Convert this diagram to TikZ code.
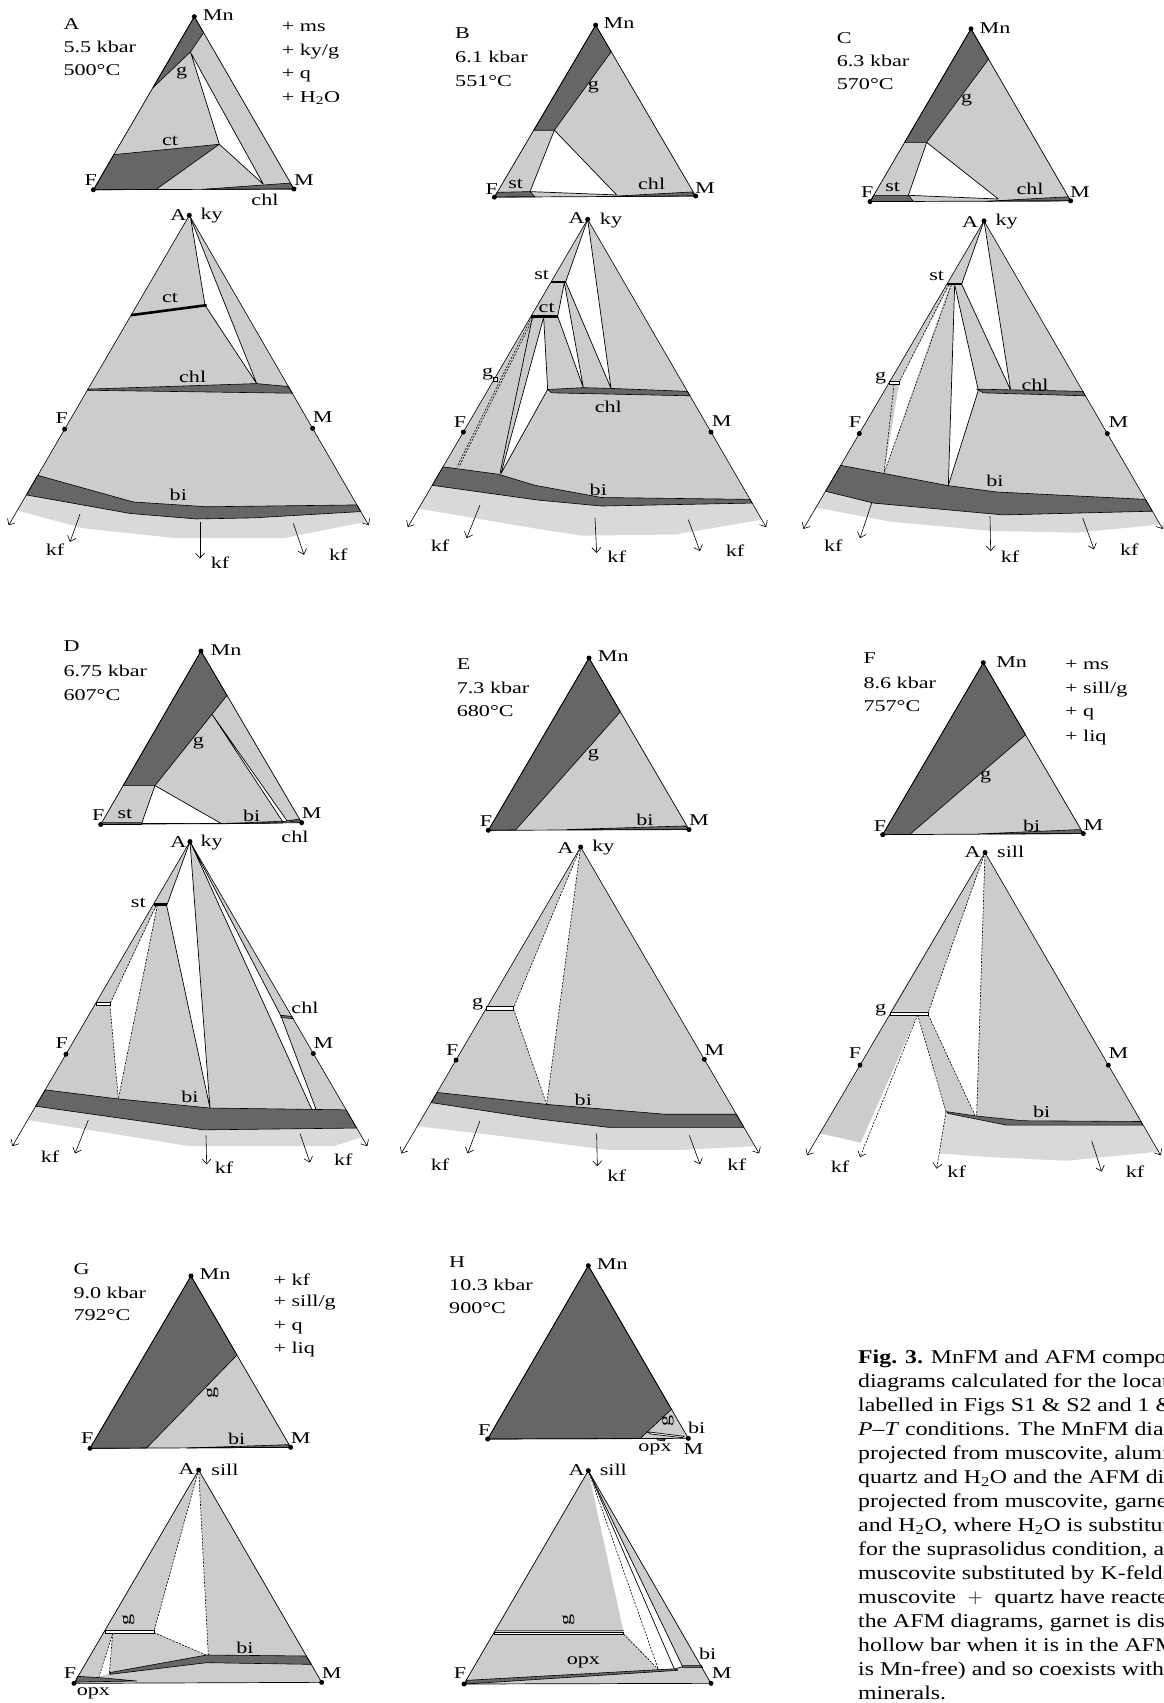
\documentclass[tikz,border=0pt]{standalone}
\usepackage{fontspec}
\setmainfont{Liberation Serif}
\newfontfamily\lsf{Liberation Serif}[FakeStretch=1.34,Ligatures=TeX]
\newfontfamily\csf{Liberation Serif}[FakeStretch=1.22,Ligatures=TeX]
\newcommand\labf{\lsf\fontsize{16.5}{19}\selectfont}
\newcommand\capf{\csf\fontsize{19.5}{24}\selectfont}
\usetikzlibrary{arrows.meta}
\definecolor{lg}{gray}{0.80}
\definecolor{dg}{gray}{0.40}
\definecolor{kg}{gray}{0.85}
\tikzset{
 dgf/.style={fill=dg, draw=black, line width=0.6pt, line join=round},
 ln/.style={draw=black, line width=0.7pt, line join=round},
 wfl/.style={fill=white, draw=black, line width=0.7pt, line join=round},
 dl/.style={draw=black, line width=0.6pt, dash pattern=on 2pt off 1.4pt},
 vdot/.style={circle, fill=black, inner sep=0pt, minimum size=5pt},
 lbl/.style={inner sep=0pt, font=\labf},
 blk/.style={inner sep=0pt, font=\labf, anchor=west},
 arr/.style={draw=black, line width=0.6pt, -{Straight Barb[length=5pt,width=9pt]}},
 tbar/.style={draw=black, line width=2.6pt},
 hb/.style={draw=black, fill=white, line width=0.5pt},
 rowa/.style={xscale=1/3, yscale=0.36991},
 rowb/.style={xscale=1/3, yscale=0.36352},
 rowc/.style={scale=1/3},
}
\begin{document}
\begin{tikzpicture}[x=1pt,y=-1pt]
\path[use as bounding box, fill=white] (0,0) rectangle (1163,1703);
\clip (0,0) rectangle (1163,1703);

%================ PANEL A =================
\begin{scope}[shift={(0,0)}, rowa]
\fill[lg] (583,45)--(280,513)--(882,511)--cycle;
\filldraw[dgf] (583,45)--(610.6,88)--(572,140)--(458.7,237)--cycle;
\filldraw[wfl] (572,142)--(658,390)--(790,498)--cycle;
\filldraw[dgf] (341.5,418)--(658,390)--(468,512.4)--(281,513)--cycle;
\filldraw[dgf] (605,512)--(870,495)--(882,511)--cycle;
\draw[ln] (583,45)--(280,513)--(882,511)--cycle;
\node[vdot] (aMnd) at (583,45) {};
\node[vdot] (aFd) at (280,513) {};
\node[vdot] (aMd) at (882,511) {};
\node[lbl] (aMn) at (655,42) {Mn};
\node[lbl] (aF) at (272,487) {F};
\node[lbl] (aM) at (912,487) {M};
\node[lbl] (ag) at (545,197) {g};
\node[lbl] (act) at (510,382) {ct};
\node[lbl] (achl) at (795,540) {chl};
\node[blk] (at1) at (190,65) {A};
\node[blk] (at2) at (190,128) {5.5 kbar};
\node[blk] (at3) at (190,190) {500°C};
\node[blk] (ap1) at (845,72) {+ ms};
\node[blk] (ap2) at (845,140) {+ ky/g};
\node[blk] (ap3) at (845,205) {+ q};
\node[blk] (ap4) at (845,265) {+ H\textsubscript{2}O};
% AFM
\fill[kg] (79,1338)--(51.6,1380)--(250,1428)--(530,1455)--(850,1455)--(1100,1410)--(1082.5,1383)--cycle;
\fill[lg] (568,582)--(79,1338)--(390,1388)--(590,1403)--(760,1400)--(1082.5,1383)--cycle;
\filldraw[wfl] (572,590)--(615,825)--(770,1037)--cycle;
\draw[tbar] (393,852)--(620,825);
\filldraw[dgf] (263,1052)--(770,1037)--(865,1045)--(877,1063)--(263,1055)--cycle;
\filldraw[dgf] (113,1285)--(400,1357)--(620,1370)--(1071,1365)--(1082.5,1383)--(760,1400)--(590,1403)--(390,1388)--(79,1338)--cycle;
\node[vdot] (aAd) at (568,582) {};
\node[vdot] (aF2d) at (194,1160) {};
\node[vdot] (aM2d) at (938,1158) {};
\draw[arr] (aAd.center)--(26,1420);
\draw[arr] (aAd.center)--(1106,1420);
\draw[arr] (240,1390)--(210,1465);
\draw[arr] (600,1410)--(600,1510);
\draw[arr] (880,1415)--(912,1500);
\node[lbl] (aA) at (535,582) {A};
\node[lbl] (aky) at (635,582) {ky};
\node[lbl] (act2) at (510,805) {ct};
\node[lbl] (achl2) at (578,1020) {chl};
\node[lbl] (aF2) at (185,1130) {F};
\node[lbl] (aM2) at (968,1128) {M};
\node[lbl] (abi) at (535,1338) {bi};
\node[lbl] (akf1) at (165,1487) {kf};
\node[lbl] (akf2) at (660,1520) {kf};
\node[lbl] (akf3) at (1015,1500) {kf};
\end{scope}

%================ PANEL B =================
\begin{scope}[shift={(395,0)}, rowa]
\fill[lg] (602,68)--(298,533)--(902,530)--cycle;
\filldraw[dgf] (602,68)--(648.5,140)--(478,352)--(416.3,352)--cycle;
\filldraw[wfl] (478,352)--(665,527)--(405,518)--cycle;
\filldraw[dgf] (306.6,520)--(405,518)--(420,532)--(299,533)--cycle;
\filldraw[dgf] (645,531)--(890,519)--(902,530)--cycle;
\draw[ln] (602,68)--(298,533)--(902,530)--cycle;
\node[vdot] (bMnd) at (602,68) {};
\node[vdot] (bFd) at (298,533) {};
\node[vdot] (bMd) at (902,530) {};
\node[lbl] (bMn) at (672,62) {Mn};
\node[lbl] (bF) at (290,510) {F};
\node[lbl] (bst) at (362,497) {st};
\node[lbl] (bchl) at (770,497) {chl};
\node[lbl] (bM) at (930,508) {M};
\node[lbl] (bg) at (595,235) {g};
\node[blk] (bt1) at (180,90) {B};
\node[blk] (bt2) at (180,155) {6.1 kbar};
\node[blk] (bt3) at (180,218) {551°C};
% AFM
\fill[kg] (111.6,1312)--(71,1375)--(430,1430)--(560,1448)--(840,1445)--(1100,1405)--(1071.6,1360)--cycle;
\fill[lg] (578,593)--(111.6,1312)--(430,1352)--(620,1368)--(1071.6,1360)--cycle;
\filldraw[wfl] (578,593)--(512,762)--(648,1050)--cycle;
\filldraw[wfl] (508,764)--(488,855)--(565,1048)--cycle;
\filldraw[wfl] (446,858)--(458,1053)--(318,1280)--cycle;
\draw[ln] (412,858)--(315,1280);
\draw[dl] (410,858)--(186,1262);
\draw[dl] (416,858)--(192,1262);
\filldraw[hb] (296,1020) rectangle (306,1030);
\draw[tbar] (468,762)--(512,762);
\draw[tbar] (408,855)--(488,855);
\filldraw[dgf] (458,1053)--(565,1048)--(648,1050)--(877,1058)--(885,1070)--(470,1062)--cycle;
\filldraw[dgf] (144,1262)--(310,1282)--(420,1312)--(620,1345)--(1065,1350)--(1071.6,1360)--(620,1368)--(430,1352)--(111.6,1312)--cycle;
\node[vdot] (bAd) at (578,593) {};
\node[vdot] (bF2d) at (205,1168) {};
\node[vdot] (bM2d) at (948,1168) {};
\draw[arr] (bAd.center)--(38.3,1425);
\draw[arr] (bAd.center)--(1113.4,1425);
\draw[arr] (255,1365)--(215,1455);
\draw[arr] (600,1400)--(605,1495);
\draw[arr] (880,1405)--(915,1490);
\node[lbl] (bA) at (545,590) {A};
\node[lbl] (bky) at (648,595) {ky};
\node[lbl] (bst2) at (440,742) {st};
\node[lbl] (bct2) at (455,832) {ct};
\node[lbl] (bg2) at (278,1010) {g};
\node[lbl] (bchl2) at (640,1100) {chl};
\node[lbl] (bF2) at (195,1140) {F};
\node[lbl] (bM2) at (980,1138) {M};
\node[lbl] (bbi) at (610,1325) {bi};
\node[lbl] (bkf1) at (135,1475) {kf};
\node[lbl] (bkf2) at (665,1505) {kf};
\node[lbl] (bkf3) at (1020,1490) {kf};
\end{scope}

%================ PANEL C =================
\begin{scope}[shift={(790,0)}, rowa]
\fill[lg] (543,78)--(240,545)--(842,543)--cycle;
\filldraw[dgf] (543,78)--(595.7,160)--(410,385)--(343.8,385)--cycle;
\filldraw[wfl] (410,385)--(625,538)--(355,528)--cycle;
\filldraw[dgf] (251,528)--(355,528)--(370,544)--(241,545)--cycle;
\filldraw[dgf] (590,544)--(835,532)--(842,543)--cycle;
\draw[ln] (543,78)--(240,545)--(842,543)--cycle;
\node[vdot] (cMnd) at (543,78) {};
\node[vdot] (cFd) at (240,545) {};
\node[vdot] (cMd) at (842,543) {};
\node[lbl] (cMn) at (615,75) {Mn};
\node[lbl] (cF) at (232,520) {F};
\node[lbl] (cst) at (308,505) {st};
\node[lbl] (cchl) at (720,510) {chl};
\node[lbl] (cM) at (870,518) {M};
\node[lbl] (cg) at (530,270) {g};
\node[blk] (ct1) at (140,103) {C};
\node[blk] (ct2) at (140,165) {6.3 kbar};
\node[blk] (ct3) at (140,228) {570°C};
% AFM
\fill[kg] (106.6,1328)--(78,1372)--(300,1410)--(600,1435)--(860,1440)--(1110,1418)--(1087,1382)--cycle;
\fill[lg] (582,597)--(106.6,1328)--(250,1360)--(640,1392)--(1087,1382)--cycle;
\filldraw[wfl] (582,597)--(515,768)--(662,1055)--cycle;
\filldraw[wfl] (494,770)--(565,1055)--(475,1312)--cycle;
\fill[white] (478,772)--(328,1035)--(282,1278)--cycle;
\draw[dl] (476,770)--(328,1032);
\draw[dl] (484,770)--(282,1280);
\draw[dl] (312,1040)--(282,1280);
\filldraw[hb] (298,1030) rectangle (328,1040);
\draw[tbar] (471,768)--(515,768);
\filldraw[dgf] (560,1052)--(878.6,1058)--(886,1070)--(580,1062)--cycle;
\filldraw[dgf] (152,1258)--(282,1280)--(475,1313)--(620,1330)--(1066.6,1350)--(1087,1382)--(640,1392)--(250,1360)--(106.6,1328)--cycle;
\node[vdot] (cAd) at (582,597) {};
\node[vdot] (cF2d) at (208,1172) {};
\node[vdot] (cM2d) at (952,1172) {};
\draw[arr] (cAd.center)--(40.2,1430);
\draw[arr] (cAd.center)--(1118,1430);
\draw[arr] (245,1360)--(210,1455);
\draw[arr] (600,1395)--(602,1490);
\draw[arr] (878,1400)--(912,1485);
\node[lbl] (cA) at (540,600) {A};
\node[lbl] (cky) at (650,600) {ky};
\node[lbl] (cst2) at (440,745) {st};
\node[lbl] (cg2) at (272,1022) {g};
\node[lbl] (cchl2) at (735,1040) {chl};
\node[lbl] (cF2) at (195,1140) {F};
\node[lbl] (cM2) at (985,1140) {M};
\node[lbl] (cbi) at (615,1300) {bi};
\node[lbl] (ckf1) at (130,1475) {kf};
\node[lbl] (ckf2) at (660,1505) {kf};
\node[lbl] (ckf3) at (1018,1485) {kf};
\end{scope}

%================ PANEL D =================
\begin{scope}[shift={(0,630)}, rowb]
\fill[lg] (603,58)--(302,535)--(905,530)--cycle;
\filldraw[dgf] (603,58)--(681,180)--(465,428)--(369.5,428)--cycle;
\filldraw[wfl] (465,428)--(665,533)--(425,532)--cycle;
\filldraw[wfl] (636,232)--(862,526)--(848,527)--cycle;
\filldraw[dgf] (310,530)--(425,530)--(425,535)--(302,535)--cycle;
\filldraw[dgf] (665,533)--(845,526)--(848,531)--cycle;
\filldraw[dgf] (862,525)--(898,520)--(905,530)--cycle;
\draw[ln] (603,58)--(302,535)--(905,530)--cycle;
\node[vdot] (dMnd) at (603,58) {};
\node[vdot] (dFd) at (302,535) {};
\node[vdot] (dMd) at (905,530) {};
\node[lbl] (dMn) at (678,55) {Mn};
\node[lbl] (dF) at (295,508) {F};
\node[lbl] (dst) at (375,505) {st};
\node[lbl] (dbi) at (755,510) {bi};
\node[lbl] (dM) at (935,505) {M};
\node[lbl] (dchl) at (885,570) {chl};
\node[lbl] (dg) at (595,310) {g};
\node[blk] (dt1) at (190,45) {D};
\node[blk] (dt2) at (190,112) {6.75 kbar};
\node[blk] (dt3) at (190,180) {607°C};
% AFM
\fill[kg] (107,1310)--(83,1348)--(300,1380)--(570,1420)--(1000,1420)--(1086,1395)--(1070,1370)--cycle;
\fill[lg] (570,582)--(107,1310)--(610,1375)--(1070,1370)--cycle;
\filldraw[wfl] (570,582)--(500,758)--(630,1315)--cycle;
\filldraw[wfl] (572,585)--(843,1062)--(948,1318)--(935,1318)--cycle;
\fill[white] (470,760)--(330,1030)--(355,1290)--cycle;
\draw[dl] (468,758)--(330,1028);
\draw[dl] (472,758)--(355,1290);
\draw[dl] (330,1032)--(355,1290);
\filldraw[hb] (288,1024) rectangle (330,1033);
\draw[tbar] (461,755)--(500,755);
\filldraw[dgf] (843,1060)--(876,1063)--(879,1069)--(843,1066)--cycle;
\filldraw[dgf] (135.6,1265)--(355,1290)--(630,1315)--(1038,1320)--(1070,1370)--(610,1375)--(107,1310)--cycle;
\node[vdot] (dAd) at (570,582) {};
\node[vdot] (dF2d) at (198,1167) {};
\node[vdot] (dM2d) at (940,1165) {};
\draw[arr] (dAd.center)--(37,1420);
\draw[arr] (dAd.center)--(1102,1420);
\draw[arr] (265,1348)--(225,1440);
\draw[arr] (618,1390)--(620,1470);
\draw[arr] (900,1385)--(930,1465);
\node[lbl] (dA) at (535,582) {A};
\node[lbl] (dky) at (635,585) {ky};
\node[lbl] (dst2) at (415,752) {st};
\node[lbl] (dchl2) at (915,1040) {chl};
\node[lbl] (dF2) at (185,1135) {F};
\node[lbl] (dM2) at (970,1135) {M};
\node[lbl] (dbi2) at (570,1285) {bi};
\node[lbl] (dkf1) at (150,1448) {kf};
\node[lbl] (dkf2) at (672,1480) {kf};
\node[lbl] (dkf3) at (1030,1458) {kf};
\end{scope}

%================ PANEL E =================
\begin{scope}[shift={(395,630)}, rowb]
\fill[lg] (582,77)--(280,551)--(882,549)--cycle;
\filldraw[dgf] (582,77)--(676,225)--(420,490) .. controls (390,520) .. (362,550)--(280,551)--cycle;
\filldraw[dgf] (515,549)--(870,539)--(882,549)--cycle;
\draw[ln] (582,77)--(280,551)--(882,549)--cycle;
\node[vdot] (eMnd) at (582,77) {};
\node[vdot] (eFd) at (280,551) {};
\node[vdot] (eMd) at (882,549) {};
\node[lbl] (eMn) at (655,72) {Mn};
\node[lbl] (eF) at (273,525) {F};
\node[lbl] (ebi) at (750,522) {bi};
\node[lbl] (eM) at (912,522) {M};
\node[lbl] (eg) at (595,345) {g};
\node[blk] (et1) at (185,95) {E};
\node[blk] (et2) at (185,158) {7.3 kbar};
\node[blk] (et3) at (185,222) {680°C};
% AFM
\fill[kg] (108.5,1300)--(67,1365)--(300,1390)--(640,1430)--(860,1430)--(1080,1420)--(1046.6,1368)--cycle;
\fill[lg] (557,597)--(108.5,1300)--(430,1345)--(640,1368)--(1046.6,1368)--cycle;
\fill[white] (557,597)--(356,1040)--(455,1305)--cycle;
\draw[dl] (557,597)--(356,1038);
\draw[dl] (557,597)--(455,1305);
\draw[dl] (356,1044)--(455,1305);
\filldraw[hb] (274,1036) rectangle (356,1045);
\filldraw[dgf] (126,1272)--(455,1305)--(810,1332)--(1024,1332)--(1046.6,1368)--(640,1368)--(430,1345)--(108.5,1300)--cycle;
\node[vdot] (eAd) at (557,597) {};
\node[vdot] (eF2d) at (183,1183) {};
\node[vdot] (eM2d) at (928,1181) {};
\draw[arr] (eAd.center)--(19,1440);
\draw[arr] (eAd.center)--(1092.5,1440);
\draw[arr] (255,1350)--(218,1440);
\draw[arr] (605,1385)--(607,1475);
\draw[arr] (883,1390)--(915,1470);
\node[lbl] (eA) at (512,600) {A};
\node[lbl] (eky) at (625,598) {ky};
\node[lbl] (eg2) at (248,1030) {g};
\node[lbl] (eF2) at (172,1155) {F};
\node[lbl] (eM2) at (958,1155) {M};
\node[lbl] (ebi2) at (565,1292) {bi};
\node[lbl] (ekf1) at (135,1470) {kf};
\node[lbl] (ekf2) at (665,1500) {kf};
\node[lbl] (ekf3) at (1025,1472) {kf};
\end{scope}

%================ PANEL F =================
\begin{scope}[shift={(790,630)}, rowb]
\fill[lg] (580,90)--(278,563)--(880,560)--cycle;
\filldraw[dgf] (580,90)--(707,288)--(360,562)--(278,563)--cycle;
\filldraw[dgf] (565,561)--(868,549)--(880,560)--cycle;
\draw[ln] (580,90)--(278,563)--(880,560)--cycle;
\node[vdot] (fMnd) at (580,90) {};
\node[vdot] (fFd) at (278,563) {};
\node[vdot] (fMd) at (880,560) {};
\node[lbl] (fMn) at (665,88) {Mn};
\node[lbl] (fF) at (270,540) {F};
\node[lbl] (fbi) at (725,540) {bi};
\node[lbl] (fM) at (910,537) {M};
\node[lbl] (fg) at (587,405) {g};
\node[blk] (ft1) at (220,78) {F};
\node[blk] (ft2) at (220,145) {8.6 kbar};
\node[blk] (ft3) at (220,210) {757°C};
\node[blk] (fp1) at (825,95) {+ ms};
\node[blk] (fp2) at (825,165) {+ sill/g};
\node[blk] (fp3) at (825,230) {+ q};
\node[blk] (fp4) at (825,295) {+ liq};
% AFM
\fill[lg] (585,612)--(300,1050)--(415,1050)--cycle;
\fill[lg] (299,1058)--(383,1058)--(212,1410)--(150,1397)--(89.5,1385)--cycle;
\fill[lg] (383,1058)--(415,1058)--(555,1335)--(468,1325)--cycle;
\fill[lg] (585,612)--(560,1336)--(700,1350)--(1053,1352)--cycle;
\fill[kg] (468,1325)--(475,1330)--(650,1362)--(1058,1362)--(1105.5,1435)--(830,1460)--(600,1450)--(447,1440)--cycle;
\filldraw[dgf] (470,1325)--(560,1337)--(700,1350)--(1053,1352)--(1058,1362)--(650,1362)--(475,1330)--cycle;
\filldraw[hb] (301,1051) rectangle (415,1059);
\draw[dl] (585,612)--(415,1051);
\draw[dl] (585,612)--(560,1336);
\draw[dl] (415,1059)--(555,1335);
\draw[dl] (383,1059)--(468,1325);
\draw[arr, dash pattern=on 2pt off 1.4pt] (383,1059)--(210,1450);
\draw[arr, dash pattern=on 2pt off 1.4pt] (468,1325)--(440,1482);
\node[vdot] (fAd) at (585,612) {};
\node[vdot] (fF2d) at (210,1197) {};
\node[vdot] (fM2d) at (955,1197) {};
\draw[arr] (fAd.center)--(51,1445);
\draw[arr] (fAd.center)--(1112,1445);
\draw[arr] (905,1405)--(935,1490);
\node[lbl] (fA) at (548,610) {A};
\node[lbl] (fsill) at (662,610) {sill};
\node[lbl] (fg2) at (272,1045) {g};
\node[lbl] (fF2) at (195,1165) {F};
\node[lbl] (fM2) at (985,1165) {M};
\node[lbl] (fbi2) at (755,1325) {bi};
\node[lbl] (fkf1) at (150,1475) {kf};
\node[lbl] (fkf2) at (500,1490) {kf};
\node[lbl] (fkf3) at (1035,1490) {kf};
\end{scope}

%================ PANEL G =================
\begin{scope}[shift={(0,1250)}, rowc]
\fill[lg] (573,78)--(270,595)--(872,592)--cycle;
\filldraw[dgf] (573,78)--(711,315)--(440,594)--(270,595)--cycle;
\filldraw[dgf] (560,594)--(865,584)--(872,592)--cycle;
\draw[ln] (573,78)--(270,595)--(872,592)--cycle;
\node[vdot] (gMnd) at (573,78) {};
\node[vdot] (gFd) at (270,595) {};
\node[vdot] (gMd) at (872,592) {};
\node[lbl] (gMn) at (645,72) {Mn};
\node[lbl] (gF) at (262,565) {F};
\node[lbl, rotate=90] (gg) at (637,428) {g};
\node[lbl] (gbi) at (710,568) {bi};
\node[lbl] (gM) at (902,565) {M};
\node[blk] (gt1) at (220,58) {G};
\node[blk] (gt2) at (220,128) {9.0 kbar};
\node[blk] (gt3) at (220,195) {792°C};
\node[blk] (gp1) at (820,88) {+ kf};
\node[blk] (gp2) at (820,158) {+ sill/g};
\node[blk] (gp3) at (820,232) {+ q};
\node[blk] (gp4) at (820,300) {+ liq};
% AFM
\fill[lg] (596,660)--(222,1300)--(965,1297)--cycle;
\fill[white] (596,660)--(462,1145)--(625,1218)--cycle;
\draw[dl] (596,660)--(462,1143);
\draw[dl] (596,660)--(625,1216);
\draw[dl] (462,1148)--(625,1218);
\fill[white] (338,1150)--(297,1280)--(328,1270)--cycle;
\draw[dl] (338,1150)--(297,1280);
\draw[dl] (338,1150)--(328,1270);
\filldraw[hb] (316,1140) rectangle (462,1150);
\filldraw[dgf] (328,1268)--(620,1215)--(919,1218)--(934,1243)--(620,1238)--(330,1273)--cycle;
\filldraw[dgf] (232,1279)--(300,1283)--(410,1293)--(228,1296)--cycle;
\draw[ln] (596,660)--(222,1300)--(965,1297)--cycle;
\node[vdot] (gAd) at (596,660) {};
\node[vdot] (gF2d) at (222,1300) {};
\node[vdot] (gM2d) at (965,1297) {};
\node[lbl] (gA) at (560,658) {A};
\node[lbl] (gsill) at (675,660) {sill};
\node[lbl, rotate=90] (gg2) at (385,1110) {g};
\node[lbl] (gbi2) at (735,1195) {bi};
\node[lbl] (gF2) at (210,1270) {F};
\node[lbl] (gM2) at (995,1268) {M};
\node[lbl] (gopx) at (280,1330) {opx};
\end{scope}

%================ PANEL H =================
\begin{scope}[shift={(395,1250)}, rowc]
\fill[lg] (580,47)--(278,567)--(880,565)--cycle;
\filldraw[dgf] (580,47)--(829.6,478)--(735,566)--(278,567)--cycle;
\filldraw[wfl] (755,545)--(868,559)--(862,563)--(768,552)--cycle;
\filldraw[dgf] (785,564)--(810,568)--(808,573)--(787,570)--cycle;
\draw[ln] (580,47)--(278,567)--(880,565)--cycle;
\node[vdot] (hMnd) at (580,47) {};
\node[vdot] (hFd) at (278,567) {};
\node[vdot] (hMd) at (880,565) {};
\node[lbl] (hMn) at (652,42) {Mn};
\node[lbl] (hF) at (268,540) {F};
\node[lbl, rotate=90] (hg) at (818,512) {g};
\node[lbl] (hbi) at (905,535) {bi};
\node[lbl] (hopx) at (780,597) {opx};
\node[lbl] (hM) at (895,597) {M};
\node[blk] (ht1) at (162,35) {H};
\node[blk] (ht2) at (162,105) {10.3 kbar};
\node[blk] (ht3) at (162,175) {900°C};
% AFM
\fill[lg] (580,662)--(207,1302)--(948,1300)--cycle;
\fill[white] (580,662)--(686,1146)--(790,1258)--(838,1257)--(863,1250)--cycle;
\draw[dl] (580,662)--(790,1258);
\draw[dl] (686,1153)--(790,1258);
\draw[ln] (580,662)--(838,1257);
\draw[ln] (580,662)--(863,1250);
\draw[ln] (838,1257)--(863,1250);
\filldraw[dgf] (863,1247)--(920,1247)--(923,1253)--(863,1253)--cycle;
\draw[dg, line width=1.3pt] (300,1141)--(686,1141);
\filldraw[hb] (298,1146) rectangle (686,1153);
\filldraw[dgf] (215,1291)--(845,1256)--(848,1261)--(213,1302)--cycle;
\draw[ln] (580,662)--(207,1302)--(948,1300)--cycle;
\node[vdot] (hAd) at (580,662) {};
\node[vdot] (hF2d) at (207,1302) {};
\node[vdot] (hM2d) at (948,1300) {};
\node[lbl] (hA) at (545,660) {A};
\node[lbl] (hsill) at (655,660) {sill};
\node[lbl, rotate=90] (hg2) at (520,1110) {g};
\node[lbl] (hopx2) at (565,1238) {opx};
\node[lbl] (hbi2) at (938,1212) {bi};
\node[lbl] (hF2) at (195,1270) {F};
\node[lbl] (hM2) at (980,1268) {M};
\end{scope}

%================ CAPTION =================
\node[anchor=north west, align=left, inner sep=0pt, font=\capf] (cap) at (858,1350) {%
\textbf{Fig. 3.} MnFM and AFM compositional\\
diagrams calculated for the locations\\
labelled in Figs S1 \& S2 and 1 \& 2 at the\\
\textit{P}–\textit{T} conditions. The MnFM diagrams are\\
projected from muscovite, aluminosilicate,\\
quartz and H\textsubscript{2}O and the AFM diagrams are\\
projected from muscovite, garnet, quartz\\
and H\textsubscript{2}O, where H\textsubscript{2}O is substituted by liquid\\
for the suprasolidus condition, and\\
muscovite substituted by K-feldspar after\\
muscovite \ $+$ \ quartz have reacted out. In\\
the AFM diagrams, garnet is displayed as a\\
hollow bar when it is in the AFM plane (i.e.\\
is Mn-free) and so coexists with all other\\
minerals.};
\end{tikzpicture}
\end{document}
